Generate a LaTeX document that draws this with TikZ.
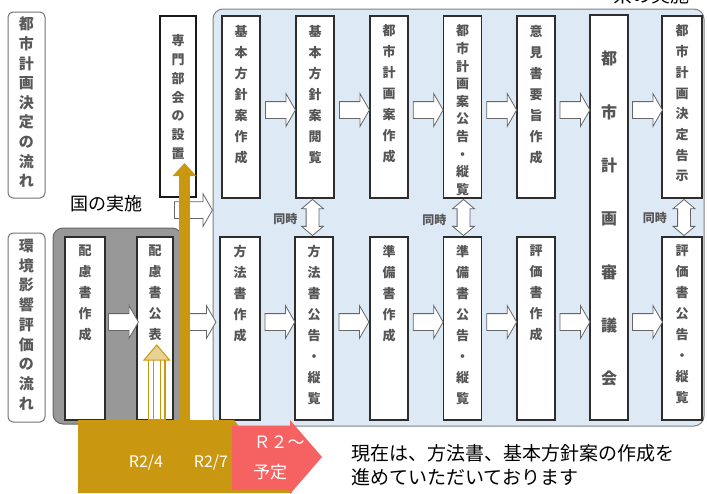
\documentclass[tikz,border=0pt]{standalone}
\usepackage{fontspec}
\setmainfont{Noto Sans CJK JP}
\usetikzlibrary{shapes.arrows,calc,arrows.meta}
\definecolor{gold}{RGB}{201,152,16}
\definecolor{salmon}{RGB}{246,98,98}
\definecolor{regblue}{RGB}{222,233,246}
\definecolor{reggray}{RGB}{152,152,152}
\definecolor{boxline}{RGB}{45,45,45}
\definecolor{txtgray}{RGB}{85,85,85}
\tikzset{
  stepbox/.style={draw=boxline, line width=1.6pt, fill=white, minimum width=38pt, inner sep=0pt},
  vtext/.style={anchor=north, align=center, inner sep=0pt, text=txtgray, font=\fontsize{13}{21}\selectfont\bfseries},
  lblbox/.style={draw=black!55, line width=1pt, fill=white, rounded corners=5pt, minimum width=37pt, inner sep=0pt},
  flowarrow/.style={single arrow, draw=black!60, fill=white, line width=0.8pt, minimum height=30pt,
    inner sep=8pt, single arrow head extend=8pt, single arrow tip angle=120},
  dblarrow/.style={double arrow, draw=black!60, fill=white, line width=0.8pt, rotate=90, minimum height=36pt,
    inner sep=6pt, double arrow head extend=4.5pt, double arrow tip angle=100},
  simul/.style={anchor=east, inner sep=0pt, text=txtgray, font=\fontsize{12}{12}\selectfont\bfseries},
  bartext/.style={text=white, inner sep=0pt, font=\fontsize{16}{16}\selectfont}
}
\begin{document}
\begin{tikzpicture}[x=1pt,y=-1pt]
\useasboundingbox (0,0) rectangle (707,493);
\clip (0,0) rectangle (707,493);
\fill[white] (0,0) rectangle (707,493);

% regions
\node[draw=black!50, line width=1pt, fill=regblue, rounded corners=10pt, minimum width=491pt, minimum height=417pt, inner sep=0pt] (pref) at (458.5,217.5) {};
\node[draw=black!60, line width=1pt, fill=reggray, rounded corners=10pt, minimum width=129pt, minimum height=196pt, inner sep=0pt] (kuni) at (117.5,326) {};
\node[anchor=base, inner sep=0pt, font=\fontsize{19}{19}\selectfont] (kentxt) at (651,2) {県の実施};

% left labels
\node[lblbox, minimum height=186pt] (L1) at (26.5,105) {};
\node[vtext, text=black!65, font=\fontsize{15}{19.6}\selectfont\bfseries] at ($(L1.north)+(0,5.5)$) {都\\市\\計\\画\\決\\定\\の\\流\\れ};
\node[lblbox, minimum height=189pt] (L2) at (26.5,327.5) {};
\node[vtext, text=black!65, font=\fontsize{15}{19.7}\selectfont\bfseries] at ($(L2.north)+(0,6.5)$) {環\\境\\影\\響\\評\\価\\の\\流\\れ};

% top row
\node[stepbox, minimum height=182pt] (b1) at (241,107) {};
\node[stepbox, minimum height=182pt] (b2) at (315,107) {};
\node[stepbox, minimum height=182pt] (b3) at (389,107) {};
\node[stepbox, minimum height=182pt] (b4) at (462.5,107) {};
\node[stepbox, minimum height=182pt] (b5) at (536,107) {};
\node[stepbox, minimum height=405pt] (b6) at (609,217.5) {};
\node[stepbox, minimum height=182pt, minimum width=40pt] (b7) at (682,107) {};
\node[stepbox, minimum height=181pt, minimum width=36pt, line width=2.2pt, draw=black!90] (s) at (178,106.5) {};

\node[vtext] at ($(b1.north)+(0,9.5)$) {基\\本\\方\\針\\案\\作\\成};
\node[vtext] at ($(b2.north)+(0,9.5)$) {基\\本\\方\\針\\案\\閲\\覧};
\node[vtext] at ($(b3.north)+(0,9.5)$) {都\\市\\計\\画\\案\\作\\成};
\node[vtext, font=\fontsize{13}{17.6}\selectfont\bfseries] at ($(b4.north)+(0,9.5)$) {都\\市\\計\\画\\案\\公\\告\\・\\縦\\覧};
\node[vtext] at ($(b5.north)+(0,9.5)$) {意\\見\\書\\要\\旨\\作\\成};
\node[vtext, font=\fontsize{16}{53.3}\selectfont\bfseries] at ($(b6.north)+(0,37)$) {都\\市\\計\\画\\審\\議\\会};
\node[vtext, font=\fontsize{13}{20.7}\selectfont\bfseries] at ($(b7.north)+(0,9.5)$) {都\\市\\計\\画\\決\\定\\告\\示};
\node[vtext, font=\fontsize{13}{18.8}\selectfont\bfseries] at ($(s.north)+(0,19.5)$) {専\\門\\部\\会\\の\\設\\置};

% bottom row
\node[stepbox, minimum height=183pt, minimum width=40pt] (c0) at (85,328.5) {};
\node[stepbox, minimum height=183pt, minimum width=36pt] (c1) at (155,328.5) {};
\node[stepbox, minimum height=183pt, minimum width=40pt] (c2) at (240,328.5) {};
\node[stepbox, minimum height=183pt] (c3) at (314,328.5) {};
\node[stepbox, minimum height=183pt] (c4) at (389,328.5) {};
\node[stepbox, minimum height=183pt] (c5) at (462.5,328.5) {};
\node[stepbox, minimum height=183pt] (c6) at (536,328.5) {};
\node[stepbox, minimum height=183pt, minimum width=40pt] (c7) at (682,328.5) {};

\node[vtext] at ($(c0.north)+(0,8.5)$) {配\\慮\\書\\作\\成};
\node[vtext] at ($(c1.north)+(0,8.5)$) {配\\慮\\書\\公\\表};
\node[vtext] at ($(c2.north)+(0,8.5)$) {方\\法\\書\\作\\成};
\node[vtext] at ($(c3.north)+(0,8.5)$) {方\\法\\書\\公\\告\\・\\縦\\覧};
\node[vtext] at ($(c4.north)+(0,8.5)$) {準\\備\\書\\作\\成};
\node[vtext] at ($(c5.north)+(0,8.5)$) {準\\備\\書\\公\\告\\・\\縦\\覧};
\node[vtext] at ($(c6.north)+(0,8.5)$) {評\\価\\書\\作\\成};
\node[vtext] at ($(c7.north)+(0,8.5)$) {評\\価\\書\\公\\告\\・\\縦\\覧};

% flow arrows top
\node[flowarrow] (t1) at ($(b1.east)!0.5!(b2.west)+(0,3)$) {};
\node[flowarrow] (t2) at ($(b2.east)!0.5!(b3.west)+(0,3)$) {};
\node[flowarrow] (t3) at ($(b3.east)!0.5!(b4.west)+(0,3)$) {};
\node[flowarrow] (t4) at ($(b4.east)!0.5!(b5.west)+(0,3)$) {};
\node[flowarrow] (t5) at ($(b5.east)!0.5!(b6.west |- b5.east)+(0,3)$) {};
\node[flowarrow] (t6) at ($(b6.east |- b7.west)!0.5!(b7.west)+(0,3)$) {};
% flow arrows bottom
\node[flowarrow] (u0) at ($(c0.east)!0.5!(c1.west)+(0,-6.5)$) {};
\node[flowarrow, minimum height=34pt] (u1) at ($(c1.east)!0.5!(c2.west)+(0,-6.5)$) {};
\node[flowarrow] (u2) at ($(c2.east)!0.5!(c3.west)+(0,-6.5)$) {};
\node[flowarrow] (u3) at ($(c3.east)!0.5!(c4.west)+(0,-6.5)$) {};
\node[flowarrow] (u4) at ($(c4.east)!0.5!(c5.west)+(0,-6.5)$) {};
\node[flowarrow] (u5) at ($(c5.east)!0.5!(c6.west)+(0,-6.5)$) {};
\node[flowarrow] (u6) at ($(c6.east)!0.5!(b6.west |- c6.east)+(0,-6.5)$) {};
\node[flowarrow] (u7) at ($(b6.east |- c7.west)!0.5!(c7.west)+(0,-6.5)$) {};
% national arrow
\node[flowarrow, minimum height=38pt] (na) at ($(s.south)+(13,12)$) {};
\node[anchor=center, inner sep=0pt, font=\fontsize{18}{18}\selectfont] (kunitxt) at (106,204) {国の実施};

% simultaneous arrows
\node[dblarrow] (d1) at ($(b2.south)!0.5!(c3.north)+(-2,0)$) {};
\node[dblarrow] (d2) at ($(b4.south)!0.5!(c5.north)+(1,0)$) {};
\node[dblarrow] (d3) at ($(b7.south)!0.5!(c7.north)+(2,0)$) {};
\node[simul] at ($(d1.center)+(-15,1)$) {同時};
\node[simul] at ($(d2.center)+(-17,2)$) {同時};
\node[simul] at ($(d3.center)+(-17,0)$) {同時};

% gold timeline
\fill[gold] (78,420) -- (234,420) -- (292,493) -- (78,493) -- cycle;
\fill[salmon] (232,426) -- (290,426) -- (290,420) -- (322,457) -- (290,494) -- (290,490) -- (232,490) -- cycle;
\draw[gold, line width=11pt, -{Triangle[length=13pt,width=23pt]}] (184.5,430) -- (184.5,163);
% R2/4 arrow
\fill[gold] (152,415) rectangle (163,430);
\draw[gold, line width=1.2pt, fill=white] (148.5,359) rectangle (165,420);
\draw[gold, line width=1pt] (153.5,359) -- (153.5,420) (160,359) -- (160,420);
\draw[gold, line width=1pt, fill=gold!45] (144,360) -- (156.75,345) -- (169.5,360) -- cycle;

\node[bartext] (r24) at (146,463) {R2/4};
\node[bartext] (r27) at (211,463) {R2/7};
\node[bartext, font=\fontsize{17}{17}\selectfont] (r2) at (279,442) {Ｒ２～};
\node[bartext, font=\fontsize{17}{17}\selectfont] (yotei) at (270,472) {予定};

\node[anchor=west, align=left, inner sep=0pt, font=\fontsize{19}{24}\selectfont] (note) at (351,465) {現在は、方法書、基本方針案の作成を\\進めていただいております};
\end{tikzpicture}
\end{document}
